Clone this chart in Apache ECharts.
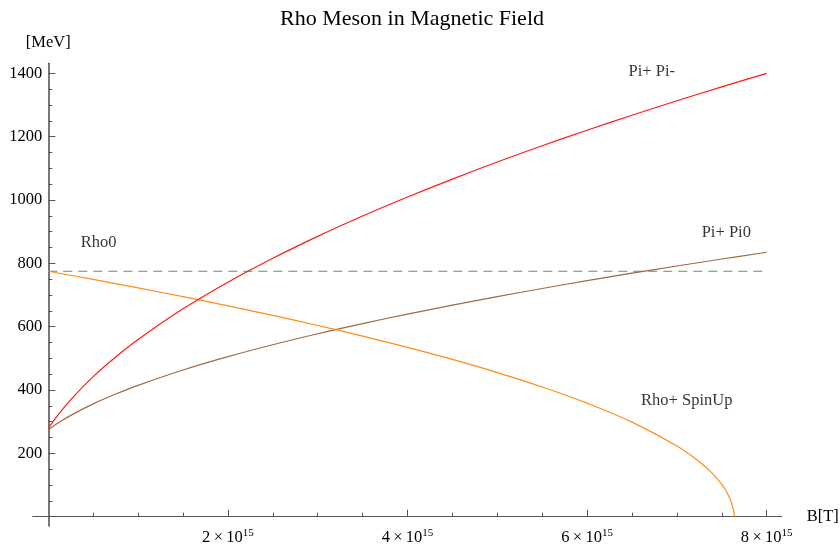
<!DOCTYPE html>
<html>
<head>
<meta charset="utf-8">
<script src="https://cdn.jsdelivr.net/npm/echarts@6/dist/echarts.min.js"></script>
<style>html,body{margin:0;padding:0;background:#fff}#c{width:840px;height:547px}</style>
</head>
<body>
<div id="c"></div>
<script>
// B field in units of 1e15 T
var bPion = [0, 0.05, 0.1, 0.25, 0.5, 0.75, 1, 1.5, 2, 2.5, 3, 3.5, 4, 4.5, 5, 5.5, 6, 6.5, 7, 7.5, 8];
var piPlusPiMinus = [279.2, 299.5, 318.6, 369.8, 442.2, 504.3, 559.6, 656.3, 740.5, 816.1, 885.2, 949.3, 1009.3, 1066.0, 1119.8, 1171.1, 1220.3, 1267.6, 1313.2, 1357.2, 1399.8];
var piPlusPi0 = [274.6, 284.8, 294.3, 319.9, 356.1, 387.2, 414.8, 463.2, 505.3, 543.0, 577.6, 609.6, 639.7, 668.0, 694.9, 720.6, 745.2, 768.8, 791.6, 813.6, 834.9];
var bRho = [0, 0.5, 1, 1.5, 2, 2.5, 3, 3.5, 4, 4.5, 5, 5.5, 6, 6.5, 7, 7.25, 7.4, 7.5, 7.55, 7.6, 7.62, 7.635, 7.64];
var rhoPlusSpinUp = [775, 749.2, 722.4, 694.7, 665.8, 635.5, 603.8, 570.2, 534.6, 496.5, 455.1, 409.6, 358.4, 298.5, 223.0, 173.3, 135.1, 101.9, 80.2, 50.0, 30.5, 15.0, 0];
var bRho0 = [0, 8];
var rho0Mass = [775, 775];

var curveLabels = ['Pi+ Pi-', 'Pi+ Pi0', 'Rho+ SpinUp', 'Rho0'];
var curveLabelB = [6.72, 7.55, 7.11, 0.56];
var curveLabelE = [1404, 898, 365, 865];

var xMajorTicks = [2, 4, 6, 8];
var xMinorTicks = [0.5, 1, 1.5, 2.5, 3, 3.5, 4.5, 5, 5.5, 6.5, 7, 7.5];
var yMajorTicks = [200, 400, 600, 800, 1000, 1200, 1400];
var yMinorTicks = [50, 100, 150, 250, 300, 350, 450, 500, 550, 650, 700, 750, 850, 900, 950, 1050, 1100, 1150, 1250, 1300, 1350];

var title = 'Rho Meson in Magnetic Field';
var xName = 'B[T]';
var yName = '[MeV]';

function pairs(xs, ys) { return xs.map(function (x, i) { return [x, ys[i]]; }); }

var FONT = 'Liberation Serif';
var axisColor = '#555';
var xMin = -0.174, xMax = 8.167, yMin = -29.4, yMax = 1431.6;
// axes sit on the origin: shift them into the plot area
var gridLeft = 32.7, gridRight = 58.3, gridTop = 63.3, gridBottom = 21;
var plotW = 840 - gridLeft - gridRight, plotH = 547 - gridTop - gridBottom;
var yAxisOffset = -((0 - xMin) / (xMax - xMin)) * plotW;
var xAxisOffset = -((0 - yMin) / (yMax - yMin)) * plotH;

var chart = echarts.init(document.getElementById('c'), null, { renderer: 'canvas' });
chart.setOption({
  animation: false,
  backgroundColor: '#fff',
  title: {
    text: title, left: 407, top: 3, textAlign: 'center',
    textStyle: { fontFamily: FONT, fontSize: 22, fontWeight: 'normal', color: '#000' }
  },
  grid: { left: gridLeft, right: gridRight, top: gridTop, bottom: gridBottom, containLabel: false, outerBoundsMode: 'none' },
  xAxis: [
    {
      type: 'value', min: xMin, max: xMax, position: 'bottom', offset: xAxisOffset,
      name: xName, nameLocation: 'end', nameGap: 25,
      nameTextStyle: { fontFamily: FONT, fontSize: 16.5, color: '#000', align: 'left', verticalAlign: 'middle' },
      axisLine: { show: true, onZero: false, lineStyle: { color: axisColor, width: 1.2 } },
      axisTick: { show: true, inside: true, length: 7, customValues: xMajorTicks, lineStyle: { color: axisColor, width: 1 } },
      axisLabel: {
        show: true, customValues: xMajorTicks, margin: 11, hideOverlap: false,
        formatter: function (v) { return '{n|' + v + '\u2009×\u200910}{s|15}'; },
        rich: {
          n: { fontFamily: FONT, fontSize: 16.5, color: '#000', lineHeight: 18 },
          s: { fontFamily: FONT, fontSize: 11, color: '#000', padding: [0, 0, 9, 0] }
        }
      },
      splitLine: { show: false }
    },
    {
      type: 'value', min: xMin, max: xMax, position: 'bottom', offset: xAxisOffset,
      axisLine: { show: false, onZero: false },
      axisTick: { show: true, inside: true, length: 4, customValues: xMinorTicks, lineStyle: { color: axisColor, width: 1 } },
      axisLabel: { show: false },
      splitLine: { show: false }
    }
  ],
  yAxis: [
    {
      type: 'value', min: yMin, max: yMax, position: 'left', offset: yAxisOffset,
      name: yName, nameLocation: 'end', nameGap: 12,
      nameTextStyle: { fontFamily: FONT, fontSize: 16.5, color: '#000', align: 'center', verticalAlign: 'bottom' },
      axisLine: { show: true, onZero: false, lineStyle: { color: axisColor, width: 1.6 } },
      axisTick: { show: true, inside: true, length: 7, customValues: yMajorTicks, lineStyle: { color: axisColor, width: 1 } },
      axisLabel: {
        show: true, customValues: yMajorTicks, margin: 6, fontFamily: FONT, fontSize: 16.5, color: '#000',
        align: 'right', overflow: 'none', hideOverlap: false,
        formatter: function (v) { return '' + Math.round(v); }
      },
      splitLine: { show: false }
    },
    {
      type: 'value', min: yMin, max: yMax, position: 'left', offset: yAxisOffset,
      axisLine: { show: false, onZero: false },
      axisTick: { show: true, inside: true, length: 4, customValues: yMinorTicks, lineStyle: { color: axisColor, width: 1 } },
      axisLabel: { show: false },
      splitLine: { show: false }
    }
  ],
  series: [
    {
      type: 'line', name: 'Rho0', xAxisIndex: 0, yAxisIndex: 0,
      data: pairs(bRho0, rho0Mass), showSymbol: false, silent: true,
      lineStyle: { color: '#4f9a62', width: 1.1, type: [9, 6] }
    },
    {
      type: 'line', name: 'Pi+ Pi0', xAxisIndex: 0, yAxisIndex: 0,
      data: pairs(bPion, piPlusPi0), showSymbol: false, smooth: 0.4, silent: true,
      lineStyle: { color: '#9e6b43', width: 1.2 }
    },
    {
      type: 'line', name: 'Rho+ SpinUp', xAxisIndex: 0, yAxisIndex: 0,
      data: pairs(bRho, rhoPlusSpinUp), showSymbol: false, smooth: 0.4, silent: true,
      lineStyle: { color: '#ff8c1a', width: 1.2 }
    },
    {
      type: 'line', name: 'Pi+ Pi-', xAxisIndex: 0, yAxisIndex: 0,
      data: pairs(bPion, piPlusPiMinus), showSymbol: false, smooth: 0.4, silent: true,
      lineStyle: { color: '#ff1a1a', width: 1.2 }
    },
    {
      type: 'scatter', xAxisIndex: 0, yAxisIndex: 0, silent: true,
      symbolSize: 1, itemStyle: { color: 'rgba(0,0,0,0)' },
      data: curveLabels.map(function (n, i) { return { name: n, value: [curveLabelB[i], curveLabelE[i]] }; }),
      label: { show: true, position: 'inside', formatter: '{b}', fontFamily: FONT, fontSize: 16.5, color: '#000' }
    }
  ]
});
</script>
</body>
</html>
